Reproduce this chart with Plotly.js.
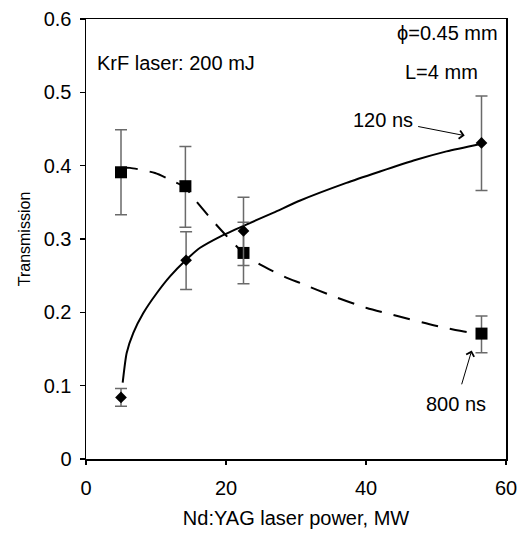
<!DOCTYPE html>
<html>
<head>
<meta charset="utf-8">
<script src="https://cdn.plot.ly/plotly-3.0.1.min.js"></script>
<style>html,body{margin:0;padding:0;background:#fff;}#chart{width:524px;height:533px;}</style>
</head>
<body>
<div id="chart"></div>
<script>
// Measured points, 120 ns pulse (diamonds)
const power120 = [5.0, 14.3, 22.5, 56.5];
const trans120 = [0.084, 0.271, 0.311, 0.431];
const err120Plus = [0.012, 0.039, 0.046, 0.064];
const err120Minus = [0.012, 0.040, 0.047, 0.065];

// Measured points, 800 ns pulse (squares)
const power800 = [5.0, 14.2, 22.5, 56.5];
const trans800 = [0.391, 0.372, 0.281, 0.171];
const err800Plus = [0.058, 0.054, 0.042, 0.024];
const err800Minus = [0.058, 0.056, 0.042, 0.026];

// Fitted curves
const fit120X = [5.24, 5.81, 6.76, 8.19, 10.1, 12.0, 14.24, 16.3, 19.1, 22.5, 26.8, 30.6, 37.2, 42.0, 46.8, 51.5, 56.5];
const fit120Y = [0.104, 0.1445, 0.172, 0.199, 0.226, 0.249, 0.271, 0.288, 0.303, 0.318, 0.336, 0.3525, 0.3765, 0.392, 0.407, 0.4195, 0.430];

const fit800X = [5.0, 6.3, 9.86, 12.2, 14.2, 15.8, 18.0, 20.1, 22.5, 24.9, 28.7, 30.6, 35.3, 40.1, 44.9, 49.8, 54.5, 56.5];
const fit800Y = [0.397, 0.397, 0.390, 0.380, 0.370, 0.351, 0.326, 0.304, 0.281, 0.265, 0.247, 0.240, 0.222, 0.206, 0.194, 0.182, 0.173, 0.171];

// Axis ticks
const xTicks = [0, 20, 40, 60];
const yTicks = [0, 0.1, 0.2, 0.3, 0.4, 0.5, 0.6];
const yTickText = ['0', '0.1', '0.2', '0.3', '0.4', '0.5', '0.6'];

const FONT = 'Liberation Sans, Arial, sans-serif';
const errColor = '#6a6a6a';

const traces = [
  {x: fit120X, y: fit120Y, mode: 'lines', line: {color: '#000', width: 2, shape: 'spline', smoothing: 0.6}, hoverinfo: 'skip', showlegend: false},
  {x: fit800X, y: fit800Y, mode: 'lines', line: {color: '#000', width: 2, shape: 'spline', smoothing: 0.6, dash: '17px,12px'}, hoverinfo: 'skip', showlegend: false},
  {x: power800, y: trans800, mode: 'markers', name: '800 ns',
   marker: {symbol: 'square', size: 12, color: '#000'},
   error_y: {type: 'data', symmetric: false, array: err800Plus, arrayminus: err800Minus, color: errColor, thickness: 1.5, width: 6},
   showlegend: false},
  {x: power120, y: trans120, mode: 'markers', name: '120 ns',
   marker: {symbol: 'diamond', size: 9, color: '#000'},
   error_y: {type: 'data', symmetric: false, array: err120Plus, arrayminus: err120Minus, color: errColor, thickness: 1.5, width: 6},
   showlegend: false}
];

const layout = {
  width: 524, height: 533,
  margin: {l: 86, r: 18, t: 19, b: 74},
  paper_bgcolor: '#fff', plot_bgcolor: '#fff',
  font: {family: FONT, color: '#000', size: 20},
  showlegend: false,
  xaxis: {
    range: [0, 60], tickvals: xTicks, ticktext: xTicks.map(String),
    ticks: 'outside', ticklen: 4, tickwidth: 1.5, tickcolor: '#000',
    showline: true, linecolor: '#000', linewidth: 1.5, mirror: true,
    showgrid: false, zeroline: false, ticklabelstandoff: 6,
    tickfont: {size: 20, family: FONT},
    title: {text: 'Nd:YAG laser power, MW', font: {size: 20, family: FONT}, standoff: 13}
  },
  yaxis: {
    range: [0, 0.6], tickvals: yTicks, ticktext: yTickText,
    ticks: 'outside', ticklen: 5, tickwidth: 1.5, tickcolor: '#000',
    showline: true, linecolor: '#000', linewidth: 1.5, mirror: true,
    showgrid: false, zeroline: false, ticklabelstandoff: 4,
    tickfont: {size: 20, family: FONT},
    title: {text: 'Transmission', font: {size: 16, family: FONT}, standoff: 9}
  },
  xaxis2: {
    overlaying: 'x', anchor: 'y', side: 'bottom', range: [0, 60], tickvals: xTicks,
    ticks: 'inside', ticklen: 6, tickwidth: 1.5, tickcolor: '#000',
    showticklabels: false, showline: false, showgrid: false, zeroline: false
  },
  yaxis2: {
    overlaying: 'y', anchor: 'x', side: 'left', range: [0, 0.6], tickvals: yTicks,
    ticks: 'inside', ticklen: 4, tickwidth: 1.5, tickcolor: '#000',
    showticklabels: false, showline: false, showgrid: false, zeroline: false
  },
  annotations: [
    {xref: 'paper', yref: 'paper', x: 0.021, y: 0.901, xanchor: 'left', yanchor: 'middle',
     text: 'KrF laser: 200 mJ', showarrow: false, font: {size: 20, family: FONT}},
    {xref: 'paper', yref: 'paper', x: 0.986, y: 0.969, xanchor: 'right', yanchor: 'middle',
     text: '\u03D5=0.45 mm', showarrow: false, font: {size: 20, family: FONT}},
    {xref: 'paper', yref: 'paper', x: 0.846, y: 0.88, xanchor: 'center', yanchor: 'middle',
     text: 'L=4 mm', showarrow: false, font: {size: 20, family: FONT}},
    {x: 54.1, y: 0.441, text: '120 ns', showarrow: true, ax: -82, ay: -16,
     arrowhead: 4, arrowsize: 1.6, arrowwidth: 1, arrowcolor: '#000', startstandoff: 4,
     font: {size: 20, family: FONT}},
    {x: 55.1, y: 0.148, text: '800 ns', showarrow: true, ax: -16, ay: 54,
     arrowhead: 4, arrowsize: 1.6, arrowwidth: 1, arrowcolor: '#000', startstandoff: 8,
     font: {size: 20, family: FONT}}
  ]
};

Plotly.newPlot('chart', traces, layout, {displayModeBar: false, staticPlot: true});
</script>
</body>
</html>
